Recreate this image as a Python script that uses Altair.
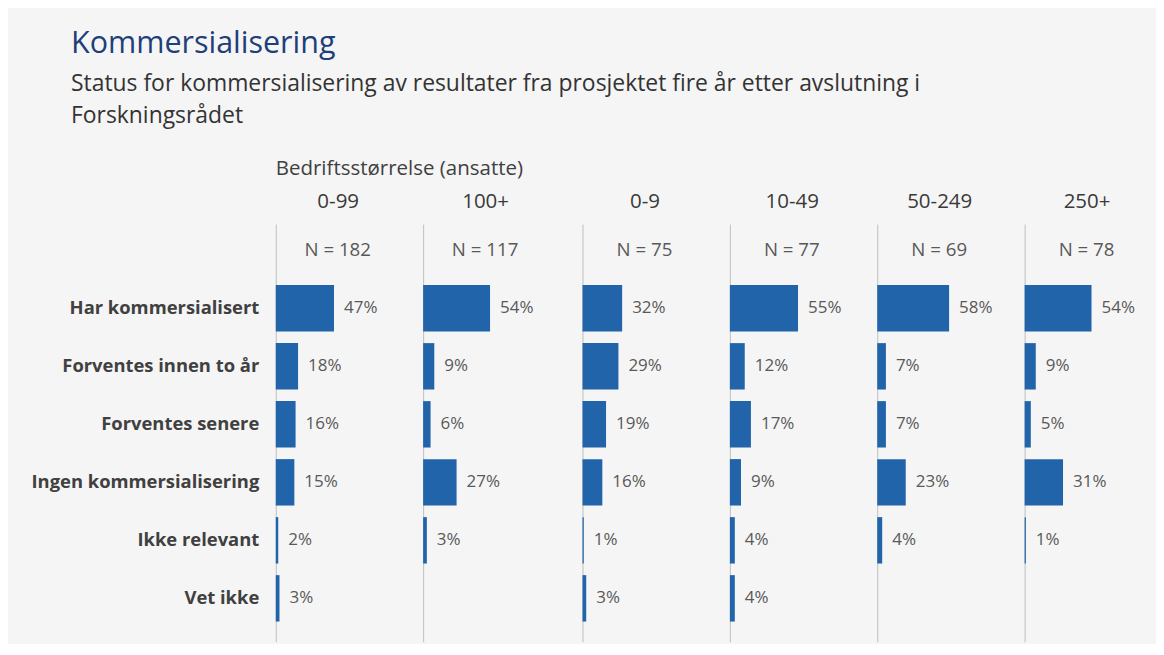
import altair as alt
import pandas as pd

categories = ["Har kommersialisert", "Forventes innen to år", "Forventes senere",
              "Ingen kommersialisering", "Ikke relevant", "Vet ikke"]
groups = ["0-99", "100+", "0-9", "10-49", "50-249", "250+"]
n_values = [182, 117, 75, 77, 69, 78]
v_0_99 = [47, 18, 16, 15, 2, 3]
v_100 = [54, 9, 6, 27, 3, None]
v_0_9 = [32, 29, 19, 16, 1, 3]
v_10_49 = [55, 12, 17, 9, 4, 4]
v_50_249 = [58, 7, 7, 23, 4, None]
v_250 = [54, 9, 5, 31, 1, None]
series = [v_0_99, v_100, v_0_9, v_10_49, v_50_249, v_250]

FONT = "Open Sans"
BAR = "#2264A9"
TXT = "#595959"
DARK = "#404040"
AXIS = "#bfbfbf"

N_KEY = "_n"
ydomain = [N_KEY] + categories

PX_PER_PCT = 1.24
BASE_W = 124
# the second panel is wider so that a larger gap separates the two groups
widths = [BASE_W, BASE_W + 12, BASE_W, BASE_W, BASE_W, BASE_W]


def panel(i, first):
    w = widths[i]
    df = pd.DataFrame({"kat": categories, "pct": series[i]}).dropna()
    df["label"] = df["pct"].astype(int).astype(str) + "%"
    ndf = pd.DataFrame({"kat": [N_KEY], "label": [f"N = {n_values[i]}"]})
    yscale = alt.Scale(domain=ydomain, paddingInner=0.2, paddingOuter=0.2, align=0.13)
    xscale = alt.Scale(domain=[0, w / PX_PER_PCT], nice=False, zero=True)
    if first:
        yaxis = alt.Axis(title=None, ticks=False, domainColor=AXIS, labelPadding=17,
                         labelExpr=f"datum.value == '{N_KEY}' ? '' : datum.value",
                         labelFont=FONT, labelFontSize=18.4, labelFontWeight="bold",
                         labelColor=DARK, labelLimit=400)
    else:
        yaxis = alt.Axis(title=None, ticks=False, labels=False, domainColor=AXIS)
    xaxis = alt.Axis(orient="top", title=groups[i], labels=False, ticks=False,
                     domain=False, grid=False, titleFont=FONT, titleFontSize=20.5,
                     titleFontWeight="normal", titleColor="#3a3a3a", titlePadding=13,
                     titleX=BASE_W / 2)
    base = alt.Chart(df)
    bars = base.mark_bar(color=BAR).encode(
        x=alt.X("pct:Q", scale=xscale, axis=xaxis),
        y=alt.Y("kat:N", scale=yscale, sort=ydomain, axis=yaxis),
    )
    labels = base.mark_text(align="left", baseline="middle", dx=10, font=FONT,
                            fontSize=17, color=TXT).encode(
        x=alt.X("pct:Q", scale=xscale),
        y=alt.Y("kat:N", scale=yscale, sort=ydomain),
        text="label:N",
    )
    ntext = alt.Chart(ndf).mark_text(align="center", baseline="middle", font=FONT,
                                     fontSize=18.7, color=TXT).encode(
        x=alt.X(datum=BASE_W / 2 / PX_PER_PCT, scale=xscale),
        y=alt.Y("kat:N", scale=yscale, sort=ydomain),
        text="label:N",
    )
    props = dict(width=w, height=418)
    if first:
        props["title"] = alt.TitleParams(
            text="Bedriftsstørrelse (ansatte)", anchor="start", frame="group",
            font=FONT, fontSize=20.5, fontWeight="normal", color=DARK, offset=12)
    return alt.layer(bars, labels, ntext).properties(**props)


chart = alt.hconcat(*[panel(i, i == 0) for i in range(6)], spacing=23.5, bounds="flush").properties(
    title=alt.TitleParams(
        text="Kommersialisering",
        subtitle=["Status for kommersialisering av resultater fra prosjektet fire år etter avslutning i",
                  "Forskningsrådet"],
        anchor="start", font=FONT, fontSize=30.5, fontWeight="normal", color="#1F3F7A",
        subtitleFont=FONT, subtitleFontSize=22.9, subtitleColor="#333333",
        subtitleLineHeight=32, subtitlePadding=13, dx=40, offset=31),
    padding={"left": 23, "top": 21, "right": 7, "bottom": 2},
).configure(background="#f5f5f5").configure_view(stroke=None).configure_axis(grid=False)

chart.save("out.html", embed_options={"renderer": "svg", "actions": False})
